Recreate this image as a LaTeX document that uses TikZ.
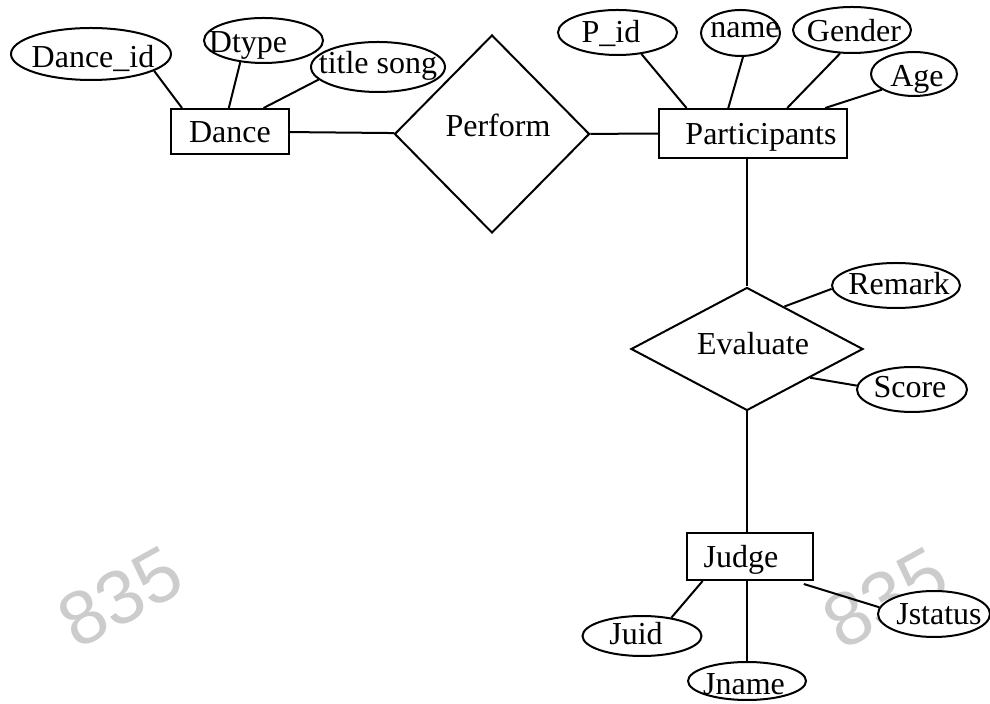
\documentclass[tikz,border=0pt]{standalone}
\usepackage{fontspec}
\setmainfont{Liberation Serif}
\newfontfamily\wmfont{Liberation Sans}
\usetikzlibrary{shapes.geometric,calc}
\definecolor{wmgray}{HTML}{CCCCCC}
% \mb{raise-down}{xshift}{text}
\newcommand\mb[3]{\makebox[0pt][c]{\hspace*{#2}\hspace*{#2}\raisebox{-#1}{#3}}}
\begin{document}
\begin{tikzpicture}[x=0.5pt,y=-0.5pt, line width=1pt,
  txt/.style={font=\fontsize{16}{18}\selectfont},
  ent/.style={txt, draw, fill=white, rectangle, inner sep=0pt, text height=11.5pt, text depth=0pt},
  attr/.style={txt, draw, fill=white, ellipse, inner sep=0pt, text height=10pt, text depth=2pt},
  rel/.style={txt, draw, fill=white, diamond, inner sep=0pt, text height=10pt, text depth=2pt},
  wm/.style={text=wmgray, font=\wmfont\fontsize{38}{42}\selectfont, rotate=29, inner sep=0pt}]
\useasboundingbox (0,0) rectangle (990,704);
% watermarks
\node[wm] (wm1) at (120,597) {835};
\node[wm] (wm2) at (885,598) {835};
% entities
\node[ent, minimum width=59pt, minimum height=22.5pt] (dance) at (230,131.5) {Dance};
\node[ent, minimum width=94pt, minimum height=24.5pt] (part) at (753,133.5) {\hspace*{8pt}Participants};
\node[ent, minimum width=63pt, minimum height=23.5pt] (judge) at (750,556.5) {Judge\hspace*{9pt}};
% relationships
\node[rel, minimum width=97.5pt, minimum height=99pt] (perform) at (492,134) {\mb{-2.5pt}{3pt}{Perform}};
\node[rel, minimum width=116pt, minimum height=61.5pt] (eval) at (747,349) {\mb{-1pt}{3pt}{Evaluate}};
% attributes
\node[attr, minimum width=80pt, minimum height=26pt] (danceid) at (91,54) {\mb{3pt}{1pt}{Dance\_id}};
\node[attr, minimum width=59.5pt, minimum height=22.5pt] (dtype) at (263.5,40.5) {\mb{2.25pt}{-7.75pt}{Dtype}};
\node[attr, minimum width=67pt, minimum height=25pt] (title) at (378,67) {\mb{-0.5pt}{0pt}{title song}};
\node[attr, minimum width=59.5pt, minimum height=22.5pt] (pid) at (617.5,32.5) {\mb{1.25pt}{-3.25pt}{P\_id}};
\node[attr, minimum width=39.5pt, minimum height=23pt] (pname) at (740.5,33) {\mb{-1.5pt}{2.25pt}{name}};
\node[attr, minimum width=59pt, minimum height=23pt] (gender) at (852,30) {\mb{2pt}{1pt}{Gender}};
\node[attr, minimum width=43pt, minimum height=22pt] (age) at (914,74) {\mb{2.5pt}{1.5pt}{Age}};
\node[attr, minimum width=64pt, minimum height=22.5pt] (remark) at (896,285.5) {\mb{0.75pt}{1.5pt}{Remark}};
\node[attr, minimum width=55pt, minimum height=22.5pt] (score) at (912,389.5) {\mb{0.25pt}{-1pt}{Score}};
\node[attr, minimum width=59.5pt, minimum height=20pt] (juid) at (642,636) {\mb{0.5pt}{-3pt}{Juid}};
\node[attr, minimum width=59pt, minimum height=19pt] (jname) at (747,681) {\mb{3pt}{-1.5pt}{Jname}};
\node[attr, minimum width=56pt, minimum height=23pt] (jstatus) at (934,614) {\mb{1.5pt}{2.5pt}{Jstatus}};
% connectors
\draw (dance) -- (perform);
\draw (perform) -- (part);
\draw (eval.north |- part.south) -- (eval.north);
\draw (eval.south) -- (eval.south |- judge.north);
\draw (danceid.-15.6) -- ($(dance.north west)!0.10!(dance.north east)$);
\draw (dtype.-137) -- ($(dance.north west)!0.49!(dance.north east)$);
\draw (title.192) -- ($(dance.north west)!0.78!(dance.north east)$);
\draw (pid.-42.6) -- ($(part.north west)!0.15!(part.north east)$);
\draw (pname.-84) -- ($(part.north west)!0.37!(part.north east)$);
\draw (gender.-117.5) -- ($(part.north west)!0.68!(part.north east)$);
\draw (age.206.6) -- ($(part.north west)!0.88!(part.north east)$);
\draw (remark.183) -- ($(eval.north)!0.32!(eval.east)$);
\draw (score.176) -- ($(eval.east)!0.46!(eval.south)$);
\draw (juid.32.5) -- ($(judge.south west)!0.13!(judge.south east)$);
\draw (jname.north |- judge.south) -- (jname.north);
\draw (jstatus.173) -- ($(judge.south west)!0.92!(judge.south east)+(0,3)$);
\end{tikzpicture}
\end{document}
